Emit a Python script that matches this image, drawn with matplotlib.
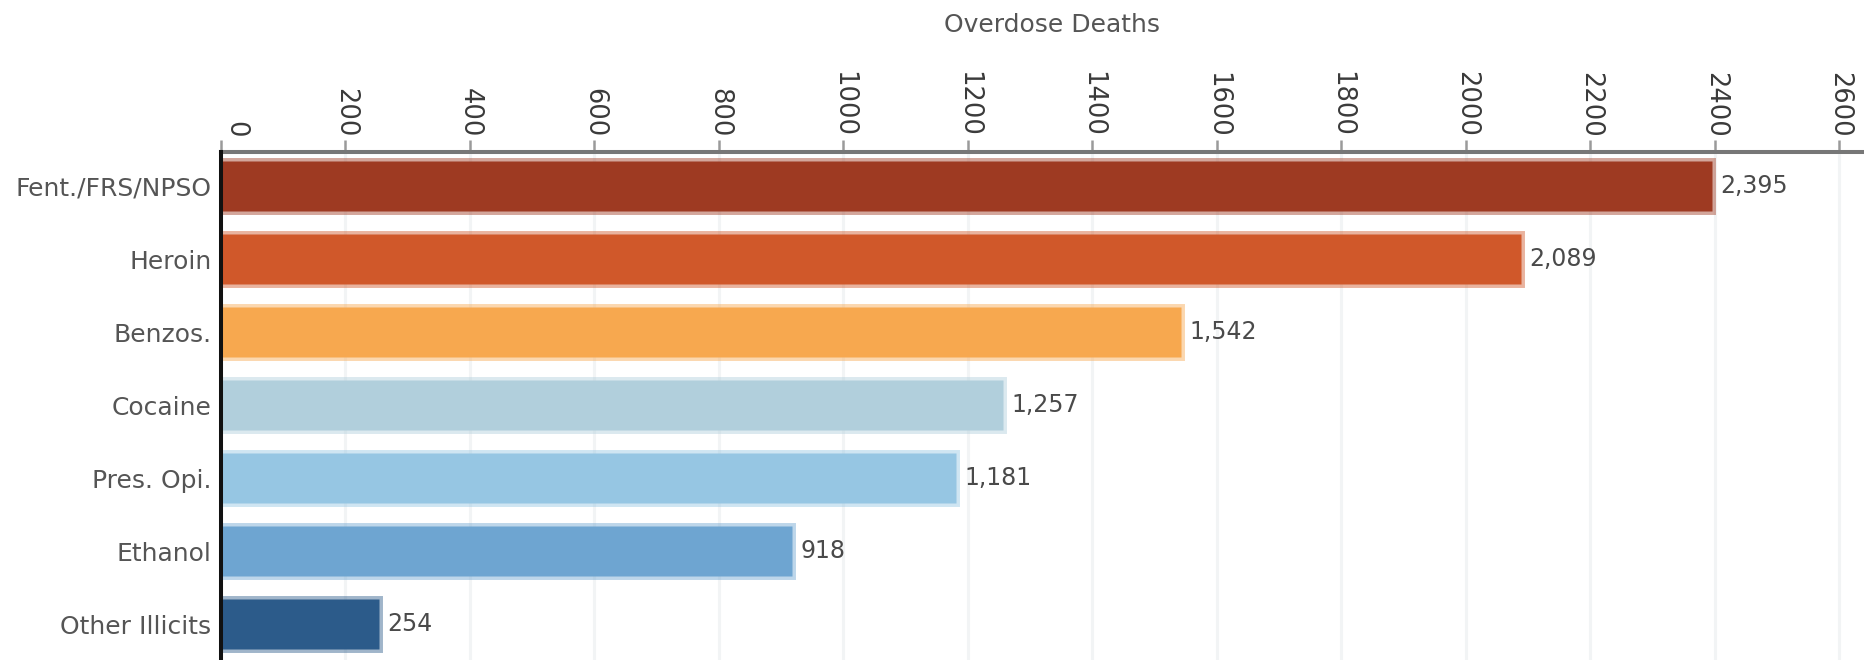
import matplotlib
matplotlib.use("Agg")
import matplotlib.pyplot as plt
import matplotlib.transforms as mtrans
from matplotlib.colors import to_rgba

# ---- data ----
drugs = ["Fent./FRS/NPSO", "Heroin", "Benzos.", "Cocaine", "Pres. Opi.", "Ethanol", "Other Illicits"]
deaths = [2395, 2089, 1542, 1257, 1181, 918, 254]
bar_colors = ["#9e3a22", "#d0582a", "#f7a84f", "#b1cfdc", "#96c6e3", "#6ea5d1", "#2c5b8a"]
ticks = list(range(0, 2601, 200))

plt.rcParams['font.family'] = ['DejaVu Sans']

W, H, DPI = 1864, 660, 100
fig = plt.figure(figsize=(W/DPI, H/DPI), dpi=DPI)
ax = fig.add_axes([221/W, 0, 1 - 221/W, 1 - 152/H])

ypos = list(range(len(drugs)))
edges = [to_rgba(c, 0.45) for c in bar_colors]
ax.barh(ypos, deaths, height=0.685, color=bar_colors, edgecolor=edges,
        linewidth=5, zorder=3)

for y, v in zip(ypos, deaths):
    ax.annotate(f"{v:,}", (v, y), xytext=(6, 0), textcoords="offset points",
                ha="left", va="center", fontsize=17, color="#4a4a4a")

ax.set_xlim(0, 2640)
ax.set_ylim(6.49, -0.466)
ax.set_yticks(ypos)
ax.set_yticklabels(drugs, fontsize=18, color="#555555")

ax.xaxis.tick_top()
ax.set_xticks(ticks)
ax.set_xticklabels([str(t) for t in ticks], rotation=-90, fontsize=18.5, color="#3a3a3a")
ax.tick_params(axis="x", length=8.6, width=1.8, color="#9a9a9a", pad=2)
ax.tick_params(axis="y", length=0, pad=7)

# "0" label sits a bit right of its tick in the original
lbl0 = ax.get_xticklabels()[0]
lbl0.set_transform(lbl0.get_transform() + mtrans.ScaledTranslation(14/DPI, 0, fig.dpi_scale_trans))

ax.grid(axis="x", color="#f2f4f5", linewidth=2.2, zorder=0)
ax.set_axisbelow(True)

for s in ["right", "bottom"]:
    ax.spines[s].set_visible(False)
ax.spines["top"].set_color("#777777")
ax.spines["top"].set_linewidth(2.9)
ax.spines["left"].set_color("#111111")
ax.spines["left"].set_linewidth(2.9)
ax.spines["left"].set_zorder(5)

fig.text(1052/W, 1 - 25/H, "Overdose Deaths", ha="center", va="center",
         fontsize=18, color="#555555")

fig.savefig("out.png", dpi=DPI)
